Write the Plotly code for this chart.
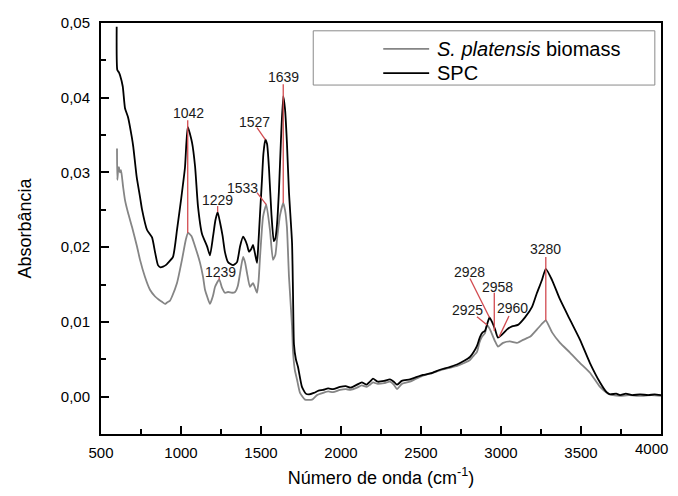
import plotly.graph_objects as go

# FTIR spectra (wavenumber in cm-1, absorbance)
spc_x = [598, 602, 612, 619, 636, 650, 669, 692, 702, 723, 744, 756, 788, 819, 838, 856, 872, 888, 905, 919,
         950, 975, 1000, 1025, 1042, 1069, 1088, 1106, 1131, 1163, 1181, 1200, 1215, 1229, 1245, 1260, 1275,
         1294, 1325, 1350, 1369, 1388, 1400, 1413, 1425, 1440, 1450, 1462, 1475, 1481, 1494, 1506, 1515, 1527,
         1538, 1550, 1565, 1580, 1590, 1600, 1612, 1625, 1639, 1650, 1662, 1675, 1694, 1700, 1706, 1718, 1731,
         1756, 1780, 1800, 1830, 1860, 1888, 1920, 1950, 1994, 2030, 2060, 2100, 2130, 2160, 2181, 2200, 2230,
         2270, 2306, 2330, 2350, 2380, 2431, 2470, 2513, 2560, 2619, 2670, 2725, 2770, 2806, 2830, 2850, 2869,
         2885, 2900, 2915, 2928, 2944, 2963, 2981, 3006, 3038, 3069, 3106, 3150, 3194, 3225, 3256, 3280, 3319,
         3369, 3431, 3494, 3556, 3619, 3660, 3681, 3720, 3744, 3780, 3820, 3869, 3920, 3960, 4000]
spc_y = [0.0495, 0.0437, 0.0434, 0.0430, 0.0415, 0.0386, 0.0374, 0.0348, 0.0334, 0.0294, 0.0267, 0.0251,
         0.0223, 0.0213, 0.0193, 0.0176, 0.0173, 0.0174, 0.0176, 0.0179, 0.0187, 0.0223, 0.0263, 0.0307,
         0.0361, 0.0340, 0.0308, 0.0255, 0.0218, 0.0201, 0.0189, 0.0214, 0.0236, 0.0247, 0.0232, 0.0215,
         0.0193, 0.0180, 0.0176, 0.0180, 0.0201, 0.0214, 0.0210, 0.0203, 0.0194, 0.0198, 0.0203, 0.0192,
         0.0179, 0.0195, 0.0245, 0.0290, 0.0325, 0.0344, 0.0338, 0.0305, 0.0245, 0.0208, 0.0212, 0.0230,
         0.0275, 0.0345, 0.0402, 0.0385, 0.0340, 0.0273, 0.0206, 0.0139, 0.0070, 0.0050, 0.0040, 0.0013,
         0.0004, 0.0003, 0.0005, 0.0008, 0.0009, 0.0011, 0.0010, 0.0013, 0.0014, 0.0012, 0.0016, 0.0019,
         0.0016, 0.0020, 0.0024, 0.0020, 0.0021, 0.0023, 0.0020, 0.0016, 0.0021, 0.0023, 0.0026, 0.0029,
         0.0031, 0.0036, 0.0039, 0.0043, 0.0048, 0.0053, 0.0060, 0.0068, 0.0080, 0.0086, 0.0088, 0.0098,
         0.0106, 0.0100, 0.0090, 0.0079, 0.0083, 0.0090, 0.0094, 0.0096, 0.0106, 0.0120, 0.0139, 0.0156,
         0.0171, 0.0156, 0.0130, 0.0103, 0.0076, 0.0045, 0.0019, 0.0006, 0.0003, 0.0004, 0.0002, 0.0004,
         0.0002, 0.0003, 0.0002, 0.0003, 0.0002]

bio_x = [600, 602, 608, 612, 618, 625, 638, 650, 669, 694, 725, 744, 775, 806, 838, 860, 881, 900, 913, 930,
         944, 975, 1006, 1030, 1044, 1065, 1088, 1119, 1138, 1150, 1165, 1181, 1200, 1213, 1239, 1256, 1275,
         1294, 1319, 1338, 1355, 1369, 1388, 1400, 1413, 1431, 1450, 1462, 1475, 1485, 1494, 1513, 1533, 1556,
         1575, 1590, 1600, 1619, 1639, 1650, 1662, 1675, 1694, 1700, 1712, 1725, 1744, 1775, 1819, 1850, 1888,
         1920, 1950, 1994, 2030, 2060, 2100, 2130, 2160, 2181, 2200, 2230, 2270, 2306, 2330, 2350, 2380, 2431,
         2470, 2513, 2560, 2619, 2670, 2725, 2770, 2806, 2830, 2850, 2865, 2881, 2900, 2913, 2931, 2963, 2981,
         3013, 3056, 3100, 3138, 3181, 3225, 3263, 3280, 3319, 3369, 3431, 3494, 3556, 3619, 3663, 3700, 3744,
         3800, 3869, 3940, 4000]
bio_y = [0.0332, 0.0290, 0.0305, 0.0307, 0.0300, 0.0303, 0.0281, 0.0263, 0.0246, 0.0227, 0.0201, 0.0183,
         0.0160, 0.0143, 0.0134, 0.0130, 0.0127, 0.0124, 0.0126, 0.0128, 0.0134, 0.0152, 0.0183, 0.0210,
         0.0219, 0.0215, 0.0201, 0.0179, 0.0160, 0.0143, 0.0133, 0.0124, 0.0135, 0.0147, 0.0157, 0.0146,
         0.0139, 0.0140, 0.0139, 0.0140, 0.0148, 0.0165, 0.0187, 0.0180, 0.0165, 0.0147, 0.0152, 0.0146,
         0.0139, 0.0155, 0.0187, 0.0241, 0.0257, 0.0223, 0.0183, 0.0190, 0.0210, 0.0243, 0.0259, 0.0250,
         0.0227, 0.0160, 0.0094, 0.0060, 0.0035, 0.0023, 0.0005, -0.0004, -0.0004, 0.0002, 0.0005, 0.0007,
         0.0006, 0.0009, 0.0010, 0.0009, 0.0012, 0.0015, 0.0013, 0.0016, 0.0019, 0.0017, 0.0018, 0.0020,
         0.0016, 0.0010, 0.0017, 0.0020, 0.0024, 0.0028, 0.0031, 0.0035, 0.0038, 0.0041, 0.0045, 0.0049,
         0.0055, 0.0060, 0.0072, 0.0080, 0.0085, 0.0096, 0.0090, 0.0074, 0.0067, 0.0072, 0.0074, 0.0072,
         0.0076, 0.0080, 0.0090, 0.0099, 0.0102, 0.0086, 0.0072, 0.0059, 0.0045, 0.0032, 0.0013, 0.0005,
         0.0002, 0.0001, 0.0002, 0.0001, 0.0002, 0.0001]

x_ticks = [500, 1000, 1500, 2000, 2500, 3000, 3500, 4000]

font = "Arial, Liberation Sans, sans-serif"
red = "#d24b50"

fig = go.Figure()
fig.add_trace(go.Scatter(x=bio_x, y=bio_y, mode="lines", name="S. platensis biomass",
                         line=dict(color="#858585", width=1.8, shape="spline", smoothing=0.5),
                         showlegend=False))
fig.add_trace(go.Scatter(x=spc_x, y=spc_y, mode="lines", name="SPC",
                         line=dict(color="black", width=1.8, shape="spline", smoothing=0.5),
                         showlegend=False))

# peak labels: text, label x, label y, line start, line end
peaks = [
    ("1042", 1044, 0.0380, (1042, 0.0370), (1042, 0.0219)),
    ("1229", 1229, 0.0263, (1229, 0.0255), (1229, 0.0247)),
    ("1239", 1244, 0.0167, (1239, 0.0160), (1239, 0.0157)),
    ("1527", 1462, 0.0368, (1475, 0.0360), (1527, 0.0344)),
    ("1533", 1387, 0.0279, (1475, 0.0273), (1533, 0.0257)),
    ("1639", 1639, 0.0428, (1639, 0.0418), (1639, 0.0259)),
    ("2928", 2806, 0.0167, (2806, 0.0158), (2928, 0.0106)),
    ("2958", 2975, 0.0147, (2958, 0.0139), (2958, 0.0088)),
    ("2925", 2788, 0.0116, (2850, 0.0107), (2913, 0.0096)),
    ("2960", 3069, 0.0119, (3050, 0.0108), (2988, 0.0080)),
    ("3280", 3280, 0.0197, (3280, 0.0187), (3280, 0.0102)),
]
for txt, lx, ly, p0, p1 in peaks:
    fig.add_shape(type="line", x0=p0[0], y0=p0[1], x1=p1[0], y1=p1[1],
                  line=dict(color=red, width=1.3), layer="above")
    fig.add_annotation(x=lx, y=ly, text=txt, showarrow=False, xanchor="center", yanchor="middle",
                       font=dict(size=14, color="#1a1a1a", family=font))

# legend box drawn by hand (Origin style)
fig.add_shape(type="rect", xref="paper", yref="paper", x0=0.379, x1=0.989, y0=0.849, y1=0.981,
              line=dict(color="#8a8a8a", width=1), fillcolor="white")
for yy, col, txt in [(0.937, "#858585", "<i>S. platensis</i> biomass"), (0.878, "black", "SPC")]:
    fig.add_shape(type="line", xref="paper", yref="paper", x0=0.504, x1=0.586, y0=yy, y1=yy,
                  line=dict(color=col, width=1.8))
    fig.add_annotation(xref="paper", yref="paper", x=0.596, y=yy, text=txt, showarrow=False,
                       xanchor="left", yanchor="middle", font=dict(size=20, color="black", family=font))

axis_common = dict(showline=True, linecolor="black", linewidth=2, mirror=True, ticks="inside",
                   tickwidth=1.5, ticklen=8, tickcolor="black", showgrid=False, zeroline=False,
                   tickfont=dict(size=15, color="black", family=font),
                   minor=dict(ticks="inside", ticklen=5, tickwidth=1.5, tickcolor="black", showgrid=False))

# last x label sits at the window edge, so it is drawn as an annotation pulled inside
fig.update_xaxes(range=[500, 4000], tickvals=x_ticks,
                 ticktext=[str(v) for v in x_ticks[:-1]] + [""], **axis_common)
fig.update_xaxes(minor_dtick=250, ticklabelstandoff=4,
                 title=dict(text="Número de onda (cm<sup>-1</sup>)", standoff=23,
                            font=dict(size=18, color="black", family=font)))
fig.add_annotation(x=x_ticks[-1], y=0, yref="paper", text=str(x_ticks[-1]), showarrow=False,
                   xanchor="right", yanchor="top", xshift=9, yshift=-4,
                   font=dict(size=15, color="black", family=font))
fig.update_yaxes(range=[-0.005, 0.05], dtick=0.01, tick0=0, tickformat=".2f", **axis_common)
fig.update_yaxes(minor_dtick=0.005, ticklabelstandoff=6,
                 title=dict(text="Absorbância", standoff=24,
                            font=dict(size=18, color="black", family=font)))

# the page keeps an 8px body margin, so the figure is sized to fit inside it
fig.update_layout(
    width=662, height=480,
    margin=dict(l=93, r=9, t=15, b=54, autoexpand=False),
    plot_bgcolor="white", paper_bgcolor="white",
    separators=",.",
    font=dict(family=font, color="black"),
)
fig.write_html("out.html")
